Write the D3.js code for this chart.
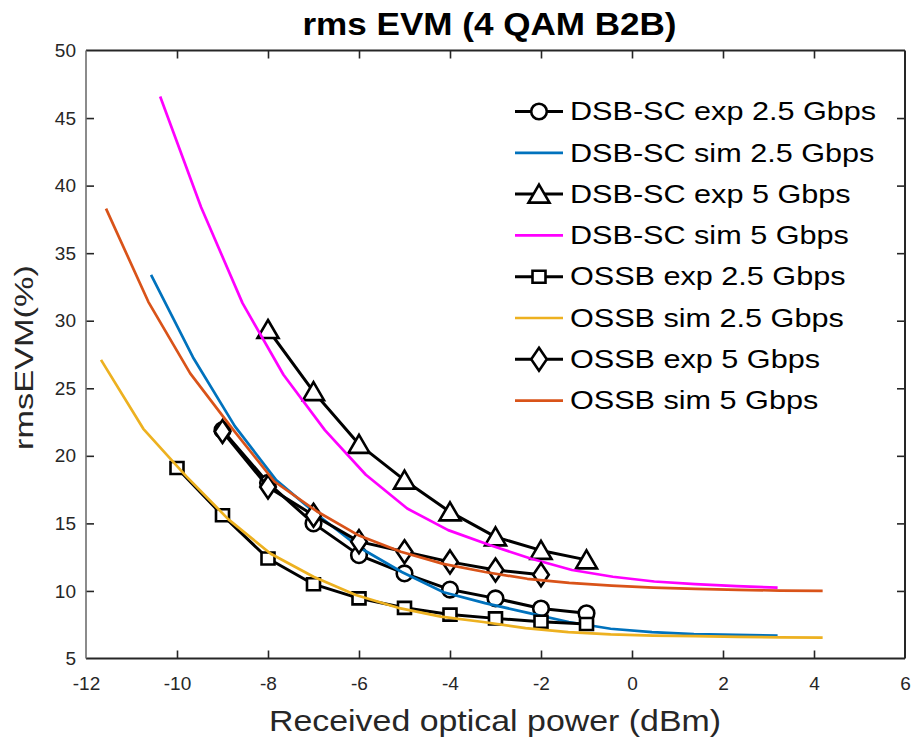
<!DOCTYPE html>
<html>
<head>
<meta charset="utf-8">
<script src="https://cdn.jsdelivr.net/npm/d3@7"></script>
<style>
  body { margin: 0; background: #fff; }
  svg { display: block; font-family: "Liberation Sans", Arial, sans-serif; }
</style>
</head>
<body>
<div id="chart"></div>
<script>
// Tick values
const xTicks = [-12, -10, -8, -6, -4, -2, 0, 2, 4, 6];
const yTicks = [5, 10, 15, 20, 25, 30, 35, 40, 45, 50];

const dsbExp25X = [-9, -8, -7, -6, -5, -4, -3, -2, -1];
const dsbExp25Y = [21.9, 18.0, 15.0, 12.65, 11.3, 10.1, 9.45, 8.7, 8.35];

const dsbExp5X = [-8, -7, -6, -5, -4, -3, -2, -1];
const dsbExp5Y = [29.35, 24.75, 20.85, 18.2, 15.85, 14.0, 13.0, 12.3];

const ossbExp25X = [-10, -9, -8, -7, -6, -5, -4, -3, -2, -1];
const ossbExp25Y = [19.1, 15.6, 12.4, 10.5, 9.45, 8.75, 8.25, 7.97, 7.72, 7.55];

const ossbExp5X = [-9, -8, -7, -6, -5, -4, -3, -2];
const ossbExp5Y = [21.8, 17.7, 15.6, 13.65, 12.9, 12.15, 11.55, 11.2];

// Simulated curves
const dsbSim25X = [-10.57, -9.65, -8.73, -7.82, -6.90, -5.98, -5.06, -4.14, -3.23, -2.31, -1.39, -0.47, 0.44, 1.36, 2.28, 3.20];
const dsbSim25Y = [33.4, 27.3, 22.2, 18.2, 15.6, 13.2, 11.4, 9.9, 9.1, 8.4, 7.7, 7.2, 6.95, 6.8, 6.75, 6.7];

const dsbSim5X = [-10.37, -9.47, -8.56, -7.66, -6.75, -5.85, -4.94, -4.04, -3.13, -2.23, -1.32, -0.42, 0.49, 1.39, 2.30, 3.20];
const dsbSim5Y = [46.6, 38.4, 31.3, 26.0, 21.9, 18.6, 16.1, 14.5, 13.4, 12.4, 11.55, 11.05, 10.7, 10.5, 10.35, 10.25];

const ossbSim25X = [-11.67, -10.74, -9.80, -8.87, -7.94, -7.00, -6.07, -5.14, -4.20, -3.27, -2.34, -1.40, -0.47, 0.46, 1.40, 2.33, 3.26, 4.19];
const ossbSim25Y = [27.1, 22.0, 18.5, 15.3, 12.75, 11.05, 9.7, 8.75, 8.1, 7.7, 7.25, 6.95, 6.78, 6.7, 6.65, 6.6, 6.57, 6.55];

const ossbSim5X = [-11.56, -10.63, -9.71, -8.78, -7.86, -6.93, -6.00, -5.08, -4.15, -3.23, -2.30, -1.38, -0.45, 0.47, 1.40, 2.33, 3.25, 4.19];
const ossbSim5Y = [38.3, 31.4, 26.1, 22.0, 18.1, 15.9, 14.1, 12.9, 12.0, 11.4, 10.9, 10.6, 10.4, 10.25, 10.15, 10.08, 10.03, 10.0];

const seriesNames = [
  "DSB-SC exp 2.5 Gbps", "DSB-SC sim 2.5 Gbps", "DSB-SC exp 5 Gbps", "DSB-SC sim 5 Gbps",
  "OSSB exp 2.5 Gbps", "OSSB sim 2.5 Gbps", "OSSB exp 5 Gbps", "OSSB sim 5 Gbps"
];

// Build series list (plot order = legend order)
const series = [
  { name: seriesNames[0], x: dsbExp25X, y: dsbExp25Y, color: "#000", marker: "circle" },
  { name: seriesNames[1], x: dsbSim25X, y: dsbSim25Y, color: "#0072BD", marker: null },
  { name: seriesNames[2], x: dsbExp5X, y: dsbExp5Y, color: "#000", marker: "triangle" },
  { name: seriesNames[3], x: dsbSim5X, y: dsbSim5Y, color: "#FF00FF", marker: null },
  { name: seriesNames[4], x: ossbExp25X, y: ossbExp25Y, color: "#000", marker: "square" },
  { name: seriesNames[5], x: ossbSim25X, y: ossbSim25Y, color: "#EDB120", marker: null },
  { name: seriesNames[6], x: ossbExp5X, y: ossbExp5Y, color: "#000", marker: "diamond" },
  { name: seriesNames[7], x: ossbSim5X, y: ossbSim5Y, color: "#D95319", marker: null }
];

const width = 912, height = 743;
const margin = { top: 50.5, right: 7, bottom: 84.5, left: 86 };
const axisColor = "#262626";

const svg = d3.select("#chart").append("svg")
  .attr("width", width)
  .attr("height", height);

const xScale = d3.scaleLinear().domain([-12, 6]).range([margin.left, width - margin.right]);
const yScale = d3.scaleLinear().domain([5, 50]).range([height - margin.bottom, margin.top]);

// text helper with a horizontal stretch
function addText(x, y, txt, size, sx, anchor, weight, rot, color) {
  const g = svg.append("g")
    .attr("transform", `translate(${x},${y}) rotate(${rot || 0}) scale(${sx},1)`);
  g.append("text")
    .attr("text-anchor", anchor)
    .style("font-size", size + "px")
    .style("font-weight", weight || "normal")
    .attr("fill", color || axisColor)
    .text(txt);
}

// plain hyphen for negatives, like the original
const fmt = (d) => String(d);

// Axes (ticks point inward)
const x0 = margin.left, x1 = width - margin.right;
const y0 = height - margin.bottom, y1 = margin.top;

const axBottom = svg.append("g")
  .attr("transform", `translate(0,${y0})`)
  .call(d3.axisBottom(xScale).tickValues(xTicks).tickSize(-8).tickPadding(18).tickFormat(fmt));
const axTop = svg.append("g")
  .attr("transform", `translate(0,${y1})`)
  .call(d3.axisTop(xScale).tickValues(xTicks).tickSize(-8).tickFormat(""));
const axLeft = svg.append("g")
  .attr("transform", `translate(${x0},0)`)
  .call(d3.axisLeft(yScale).tickValues(yTicks).tickSize(-8).tickPadding(10).tickFormat(fmt));
const axRight = svg.append("g")
  .attr("transform", `translate(${x1},0)`)
  .call(d3.axisRight(yScale).tickValues(yTicks).tickSize(-8).tickFormat(""));

[axBottom, axTop, axLeft, axRight].forEach((a) => {
  a.select(".domain").remove();
  a.selectAll(".tick line").attr("stroke", axisColor).attr("stroke-width", 1.6);
  a.selectAll(".tick text")
    .attr("fill", axisColor)
    .style("font-size", "19px")
    .style("font-family", '"Liberation Sans", Arial, sans-serif');
});
// hide the end ticks that sit on the box corners
axBottom.selectAll(".tick line").filter((d) => d === -12 || d === 6).remove();
axTop.selectAll(".tick line").filter((d) => d === -12 || d === 6).remove();
axLeft.selectAll(".tick line").filter((d) => d === 5 || d === 50).remove();
axRight.selectAll(".tick line").filter((d) => d === 5 || d === 50).remove();

// Box
svg.append("line").attr("x1", x0).attr("x2", x1).attr("y1", y0).attr("y2", y0)
  .attr("stroke", axisColor).attr("stroke-width", 2);
svg.append("line").attr("x1", x0).attr("x2", x1).attr("y1", y1).attr("y2", y1)
  .attr("stroke", axisColor).attr("stroke-width", 2);
svg.append("line").attr("x1", x1).attr("x2", x1).attr("y1", y1).attr("y2", y0)
  .attr("stroke", axisColor).attr("stroke-width", 2);
svg.append("line").attr("x1", x0).attr("x2", x0).attr("y1", y1).attr("y2", y0)
  .attr("stroke", "#6e6e6e").attr("stroke-width", 1.6);

// Marker drawing
function drawMarker(g, type, cx, cy) {
  const m = g.append(type === "circle" ? "circle" : "path")
    .attr("fill", "#fff")
    .attr("stroke", "#000")
    .attr("stroke-width", 2.6);
  if (type === "circle") {
    m.attr("cx", cx).attr("cy", cy).attr("r", 7.8);
  } else if (type === "triangle") {
    m.attr("d", `M${cx},${cy - 9.5} L${cx + 10.5},${cy + 8.5} L${cx - 10.5},${cy + 8.5} Z`);
  } else if (type === "square") {
    m.attr("d", `M${cx - 6.5},${cy - 6} h13 v12 h-13 Z`);
  } else if (type === "diamond") {
    m.attr("d", `M${cx},${cy - 11.5} L${cx + 7.8},${cy} L${cx},${cy + 11.5} L${cx - 7.8},${cy} Z`);
  }
}

const line = d3.line().x((d) => xScale(d[0])).y((d) => yScale(d[1]));

const plot = svg.append("g");
series.forEach((s) => {
  const pts = s.x.map((v, i) => [v, s.y[i]]);
  const g = plot.append("g");
  g.append("path")
    .attr("d", line(pts))
    .attr("fill", "none")
    .attr("stroke", s.color)
    .attr("stroke-width", s.marker ? 3 : 2.7)
    .attr("stroke-linejoin", "round");
  if (s.marker) {
    pts.forEach((p) => drawMarker(g, s.marker, xScale(p[0]), yScale(p[1])));
  }
});

// Legend
const legX1 = 515, legX2 = 563, legTextX = 570, legY = 111.5, legStep = 41.3;
series.forEach((s, i) => {
  const cy = legY + i * legStep;
  const g = svg.append("g");
  g.append("line")
    .attr("x1", legX1).attr("x2", legX2).attr("y1", cy).attr("y2", cy)
    .attr("stroke", s.color).attr("stroke-width", s.marker ? 3 : 2.7);
  if (s.marker) drawMarker(g, s.marker, (legX1 + legX2) / 2, cy);
  addText(legTextX, cy + 8.7, s.name, 25.5, 1.2, "start", "normal", 0, "#000");
});

// Title and axis labels
addText(489.5, 35, "rms EVM (4 QAM B2B)", 30.5, 1.15, "middle", "bold", 0, "#000");
addText(495, 731, "Received optical power (dBm)", 30, 1.13, "middle", "normal", 0, axisColor);
addText(33, 357.5, "rmsEVM(%)", 26, 1.32, "middle", "normal", -90, axisColor);
</script>
</body>
</html>
